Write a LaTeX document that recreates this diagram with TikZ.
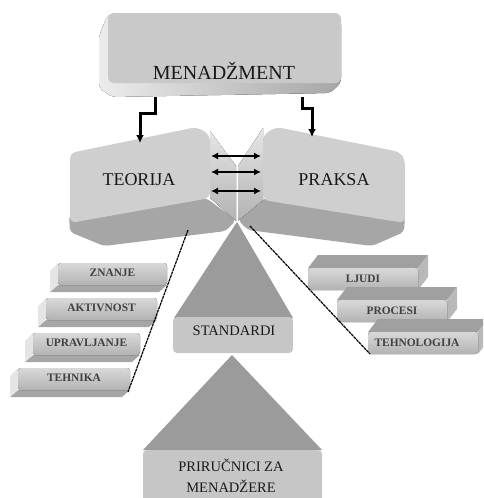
\documentclass[tikz,border=0pt]{standalone}
\usepackage{fontspec}
\setmainfont{Liberation Serif}
\usetikzlibrary{arrows.meta}

\definecolor{frontgray}{HTML}{CFCFCF}
\definecolor{undergray}{HTML}{A6A6A6}
\definecolor{pyrgray}{HTML}{9B9B9B}
\definecolor{basegray}{HTML}{C6C6C6}
\definecolor{lidgray}{HTML}{A0A0A0}

\begin{document}
\begin{tikzpicture}[x=1pt, y=-1pt, every node/.style={font=\fontsize{11.4}{13}\selectfont\bfseries, text=black!75},
	>={Latex[length=8pt,width=8pt]},
	conn/.style={->, line width=3pt},
	link/.style={<->, line width=1.8pt, >={Latex[length=7pt,width=7pt]}},
	leader/.style={line width=1.2pt, dash pattern=on 3pt off 0.7pt},
	front/.style={fill=frontgray, rounded corners=6pt},
	under/.style={fill=undergray, rounded corners=4pt},
	barface/.style={top color=gray!30, middle color=white, bottom color=gray!60, rounded corners=3pt},
	big/.style={font=\fontsize{#1}{21}\selectfont, text=black!90}]
	\clip (0,0) rectangle (483,498);
	% pyramids
	\fill[pyrgray] (232,355) -- (322,450) -- (143,450) -- cycle;
	\fill[basegray, rounded corners=4pt] (143,450) rectangle (322,510);
	\node[big=14.5, align=center] (prirucnici) at (231,476) {PRIRUČNICI ZA\\MENADŽERE};
	\fill[pyrgray] (237,222) -- (293,318) -- (174,318) -- cycle;
	\fill[basegray, rounded corners=4pt] (173,317) rectangle (293,353);
	\node[big=14.5] (standardi) at (234,331) {STANDARDI};
	% menadzment
	\fill[rounded corners=5pt, left color=gray!15, right color=undergray] (108,14) -- (99,36) -- (99,88) -- (112,97) -- (330,93) -- (341,83) -- (341,20) -- cycle;
	\fill[front, fill=gray!42] (108,13) rectangle (341,83);
	\node[big=20] (menadzment) at (224,71) {MENADŽMENT};
	% teorija
	\fill[under] (69,215) -- (206,198) -- (236,220) -- (226,231) -- (104,246) -- (70,232) -- cycle;
	\fill[top color=gray!20, bottom color=gray!60] (210,131) -- (236,166) -- (236,221) -- (210,198) -- cycle;
	\fill[front] (70,153) -- (197,127) -- (210,135) -- (210,198) -- (70,223) -- cycle;
	\node[big=18] (teorija) at (139,180) {TEORIJA};
	% praksa
	\fill[under] (265,198) -- (405,215) -- (404,232) -- (372,246) -- (248,230) -- (238,220) -- cycle;
	\fill[top color=gray!20, bottom color=gray!60] (263,128) -- (238,166) -- (238,221) -- (263,200) -- cycle;
	\fill[front] (263,135) -- (276,127) -- (400,152) -- (405,160) -- (405,223) -- (263,200) -- cycle;
	\node[big=18] (praksa) at (334,180) {PRAKSA};
	% bars
	\foreach \x/\y/\w/\lbl/\nm in {58/263/109/ZNANJE/znanje, 46/298/111/AKTIVNOST/aktivnost, 33/333/107/UPRAVLJANJE/upravljanje, 18/368/112/TEHNIKA/tehnika} {
		\fill[undergray] (\x,\y+22) -- ++(\w,0) -- ++(-8,7) -- ++(-\w,0) -- cycle;
		\fill[gray!20] (\x,\y) -- ++(-8,8) -- ++(0,21) -- ++(8,-7) -- cycle;
		\fill[barface] (\x,\y) rectangle ++(\w,22);
		\node (\nm) at (\x+\w/2,\y+10) {\lbl};
	}
	\foreach \x/\y/\tx/\lbl/\nm in {308/268/55/LJUDI/ljudi, 337/300/55/PROCESI/procesi, 368/332/49/TEHNOLOGIJA/tehnologija} {
		\fill[lidgray] (\x,\y) -- ++(10,-13) -- ++(110,0) -- ++(-10,13) -- cycle;
		\fill[gray!55] (\x+110,\y) -- ++(10,-13) -- ++(0,22) -- ++(-10,13) -- cycle;
		\fill[barface] (\x,\y) rectangle ++(110,22);
		\node (\nm) at (\x+\tx,\y+11) {\lbl};
	}
	% connectors
	\coordinate (m1) at (155,97);
	\coordinate (m2) at (302,97);
	\coordinate (t1) at (140,143);
	\coordinate (p1) at (312,137);
	\draw[conn] (m1) -- ++(0,16) -| (t1);
	\draw[conn] (m2) -- ++(0,11) -| (p1);
	\foreach \y in {156,172,191} {
		\coordinate (l\y) at (211,\y);
		\coordinate (r\y) at (261,\y);
		\draw[link] (l\y) -- (r\y);
	}
	\coordinate (tf) at (188,230);
	\coordinate (tb) at (128,392);
	\coordinate (pf) at (250,226);
	\coordinate (pb) at (370,354);
	\draw[leader] (tf) -- (tb);
	\draw[leader] (pf) -- (pb);
\end{tikzpicture}
\end{document}
